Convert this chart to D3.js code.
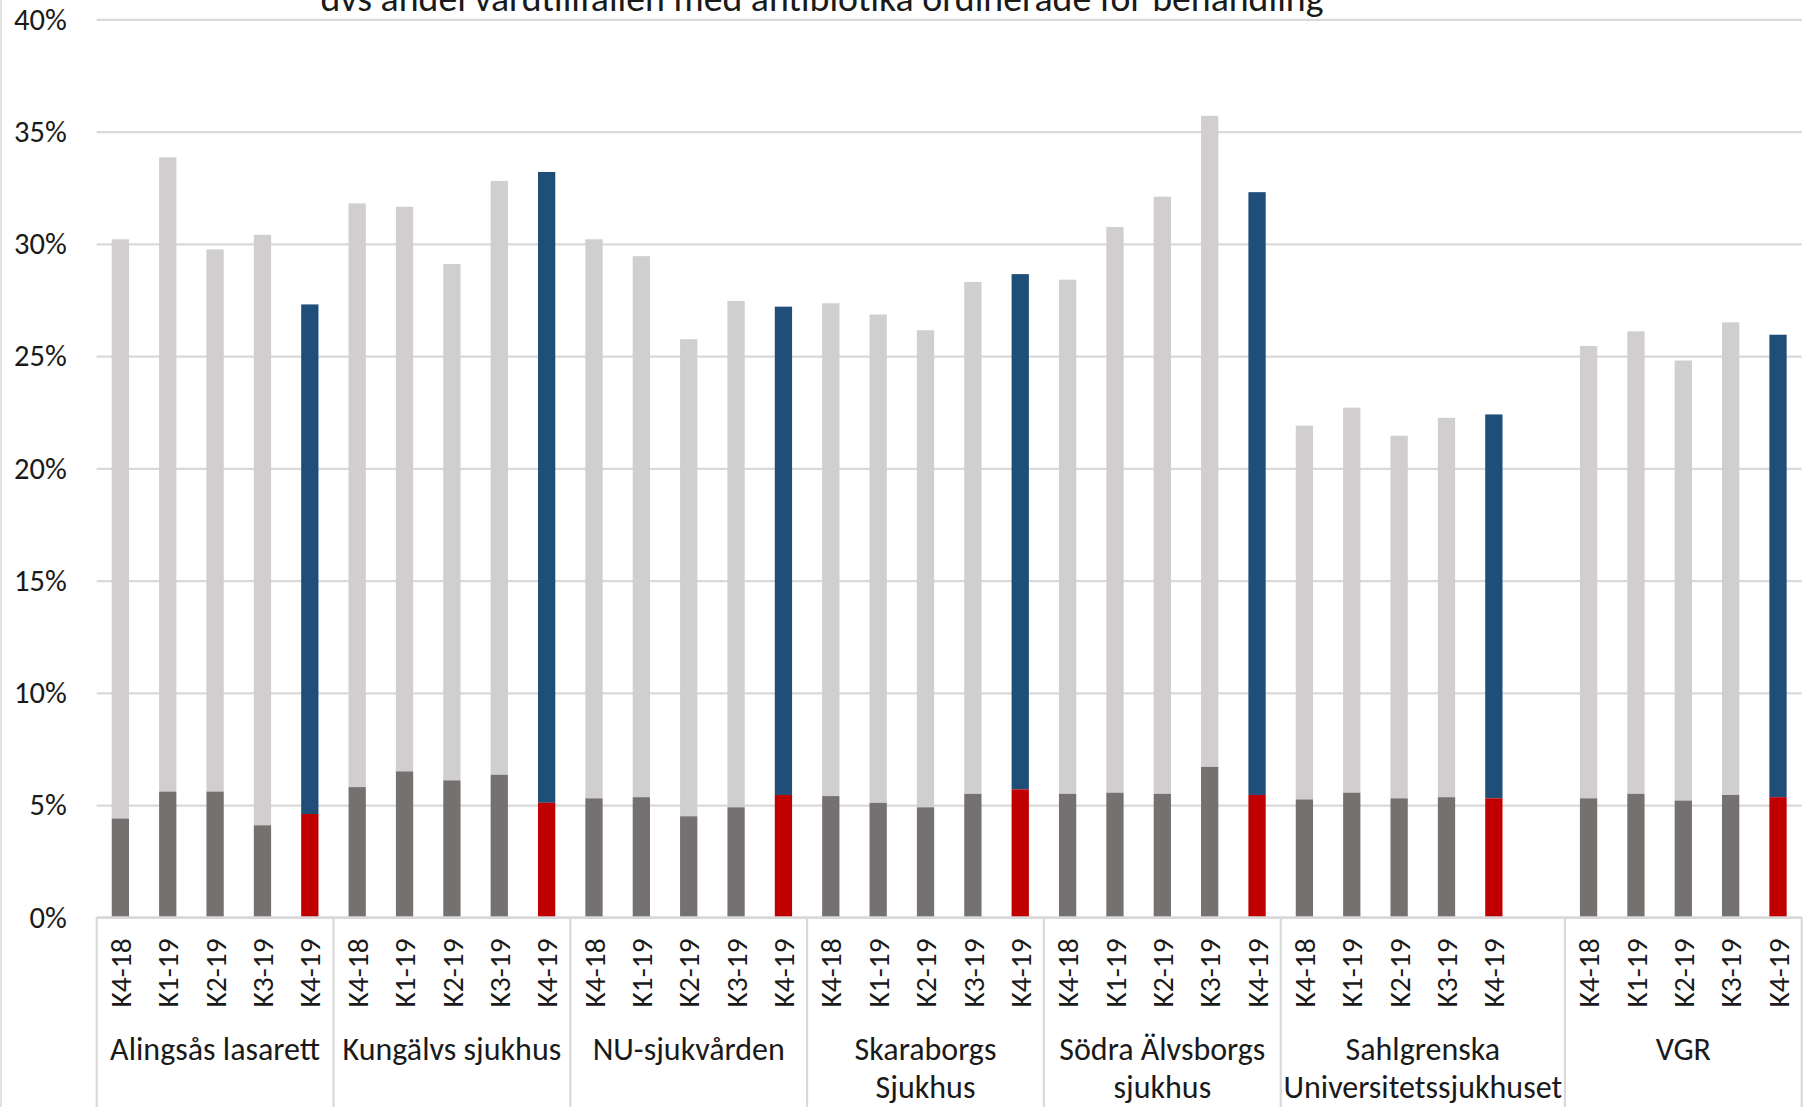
<!DOCTYPE html>
<html>
<head>
<meta charset="utf-8">
<script src="https://cdn.jsdelivr.net/npm/d3@7"></script>
<style>
  body { margin: 0; background: #fff; }
  text { font-family: Carlito, Calibri, Lato, sans-serif; fill: #1a1a1a; }
</style>
</head>
<body>
<script>
// data (percent)
var quarters = ["K4-18", "K1-19", "K2-19", "K3-19", "K4-19"];
var hospitals = [
  ["Alingsås lasarett"],
  ["Kungälvs sjukhus"],
  ["NU-sjukvården"],
  ["Skaraborgs", "Sjukhus"],
  ["Södra Älvsborgs", "sjukhus"],
  ["Sahlgrenska", "Universitetssjukhuset"],
  ["VGR"]
];
// lower (dark) segment
var lowerPct = [
  [4.4, 5.6, 5.6, 4.1, 4.6],
  [5.8, 6.5, 6.1, 6.35, 5.1],
  [5.3, 5.35, 4.5, 4.9, 5.45],
  [5.4, 5.1, 4.9, 5.5, 5.7],
  [5.5, 5.55, 5.5, 6.7, 5.45],
  [5.25, 5.55, 5.3, 5.35, 5.3],
  [5.3, 5.5, 5.2, 5.45, 5.35]
];
// total bar height
var totalPct = [
  [30.2, 33.85, 29.75, 30.4, 27.3],
  [31.8, 31.65, 29.1, 32.8, 33.2],
  [30.2, 29.45, 25.75, 27.45, 27.2],
  [27.35, 26.85, 26.15, 28.3, 28.65],
  [28.4, 30.75, 32.1, 35.7, 32.3],
  [21.9, 22.7, 21.45, 22.25, 22.4],
  [25.45, 26.1, 24.8, 26.5, 25.95]
];
var yTicks = [0, 5, 10, 15, 20, 25, 30, 35, 40];
var title = "dvs andel vårdtillfällen med antibiotika ordinerade för behandling";

var svgW = 1804, svgH = 1107;
var plotL = 96.7, plotR = 1801.7, plotT = 19.3, plotB = 917.3;

var svg = d3.select("body").append("svg")
  .attr("width", svgW).attr("height", svgH);

svg.append("rect").attr("width", svgW).attr("height", svgH).attr("fill", "#fff");
// chart border at the left edge
svg.append("line").attr("x1", 1).attr("x2", 1).attr("y1", 0).attr("y2", svgH)
  .attr("stroke", "#d9d9d9").attr("stroke-width", 1.5);

// build the slots, one empty slot after Sahlgrenska
var slots = [];
hospitals.forEach(function(h, g) {
  quarters.forEach(function(q, i) {
    slots.push({ key: g + "|" + i, g: g, i: i, q: q });
  });
  if (g == 5) slots.push({ key: g + "|gap", g: g, i: -1, q: "" });
});

var x = d3.scaleBand()
  .domain(slots.map(function(d) { return d.key; }))
  .range([plotL, plotR])
  .paddingInner(0.635)
  .paddingOuter(0.3175);

var y = d3.scaleLinear().domain([0, 40]).range([plotB, plotT]);

// gridlines + y labels
var yAxis = d3.axisLeft(y)
  .tickValues(yTicks)
  .tickFormat(function(d) { return d + "%"; })
  .tickSize(-(plotR - plotL))
  .tickPadding(30);

var gy = svg.append("g").attr("transform", "translate(" + plotL + ",0)").call(yAxis);
gy.select(".domain").remove();
gy.selectAll("line").attr("stroke", "#d9d9d9").attr("stroke-width", 2.2);
gy.selectAll("text")
  .style("font-family", "Carlito, Calibri, Lato, sans-serif")
  .style("font-size", "30.5px")
  .attr("fill", "#1a1a1a");

// bars
var bars = slots.filter(function(d) { return d.i >= 0; });

svg.append("g").selectAll("rect.top")
  .data(bars).enter().append("rect")
  .attr("x", function(d) { return x(d.key); })
  .attr("width", x.bandwidth())
  .attr("y", function(d) { return y(totalPct[d.g][d.i]); })
  .attr("height", function(d) { return y(lowerPct[d.g][d.i]) - y(totalPct[d.g][d.i]); })
  .attr("fill", function(d) { return d.i == 4 ? "#1f4e79" : "#d0cece"; });

svg.append("g").selectAll("rect.low")
  .data(bars).enter().append("rect")
  .attr("x", function(d) { return x(d.key); })
  .attr("width", x.bandwidth())
  .attr("y", function(d) { return y(lowerPct[d.g][d.i]); })
  .attr("height", function(d) { return y(0) - y(lowerPct[d.g][d.i]); })
  .attr("fill", function(d) { return d.i == 4 ? "#c00000" : "#767171"; });

// category axis
var xAxis = d3.axisBottom(x)
  .tickSize(0)
  .tickFormat(function(k) { return slots.find(function(s) { return s.key == k; }).q; });

var gx = svg.append("g").attr("transform", "translate(0," + plotB + ")").call(xAxis);
gx.select(".domain").attr("stroke", "#d9d9d9").attr("stroke-width", 2.2)
  .attr("d", "M" + plotL + ",0H" + plotR);
gx.selectAll("text")
  .style("font-family", "Carlito, Calibri, Lato, sans-serif")
  .style("font-size", "29.5px")
  .attr("fill", "#1a1a1a")
  .attr("transform", "rotate(-90)")
  .attr("text-anchor", "end")
  .attr("x", -21)
  .attr("y", 0)
  .attr("dy", "0.36em");

// group separators and names
var groupEdges = [];
hospitals.forEach(function(h, g) {
  var ks = slots.filter(function(s) { return s.g == g; });
  var x0 = x(ks[0].key) - x.step() * x.paddingInner() / 2;
  var x1 = x(ks[ks.length - 1].key) + x.bandwidth() + x.step() * x.paddingInner() / 2;
  groupEdges.push({ g: g, x0: x0, x1: x1 });
});

svg.append("g").selectAll("line")
  .data(groupEdges.map(function(e) { return e.x0; }).concat([plotR]))
  .enter().append("line")
  .attr("x1", function(d) { return d; }).attr("x2", function(d) { return d; })
  .attr("y1", plotB).attr("y2", svgH)
  .attr("stroke", "#d9d9d9").attr("stroke-width", 2.2);

var gl = svg.append("g").selectAll("text")
  .data(groupEdges).enter().append("text")
  .attr("x", function(d) { return (d.x0 + d.x1) / 2; })
  .attr("y", 1049)
  .attr("text-anchor", "middle")
  .style("font-size", "32px");
gl.each(function(d) {
  var t = d3.select(this);
  hospitals[d.g].forEach(function(line, j) {
    t.append("tspan")
      .attr("x", (d.x0 + d.x1) / 2)
      .attr("y", 1049 + j * 38)
      .attr("dy", "0.35em")
      .text(line);
  });
});

// title, cut off at the top
svg.append("text")
  .attr("x", 822).attr("y", 11)
  .attr("text-anchor", "middle")
  .style("font-size", "37.8px")
  .text(title);
</script>
</body>
</html>
